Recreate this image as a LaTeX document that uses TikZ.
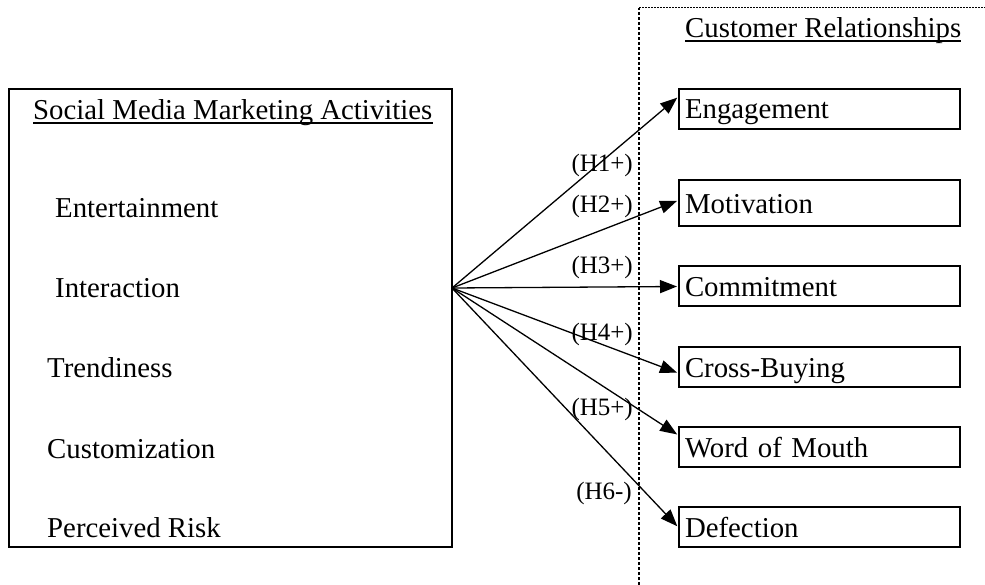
\documentclass[tikz,border=0pt]{standalone}
\usepackage{fontspec}
\setmainfont{Liberation Serif}
\usetikzlibrary{arrows.meta}

\tikzset{
    item/.style={anchor=base west, inner sep=0pt, font=\fontsize{28.8}{34}\selectfont},
    crbox/.style={draw, line width=2pt, anchor=west, inner xsep=6pt, inner ysep=0pt,
        text width=269pt, minimum height=40pt, text height=20pt, text depth=0pt,
        align=left, font=\fontsize{28.8}{34}\selectfont},
    hyp/.style={anchor=base east, inner sep=0pt, font=\fontsize{25}{30}\selectfont},
    link/.style={-{Triangle[length=17pt,width=13pt]}, line width=1.3pt, shorten >=1pt}
}

\begin{document}
\begin{tikzpicture}[x=1pt, y=-1pt]
    \useasboundingbox (0,0) rectangle (985,585);

    % Separator of the outcome side
    \draw[line width=2pt, dash pattern=on 3pt off 2pt] (639,585) -- (639,8);
    \draw[line width=1pt, dash pattern=on 1.5pt off 1.5pt] (639,8) -- (985,8);

    % Social media marketing activities
    \node[draw, line width=2pt, minimum width=443pt, minimum height=458pt, inner sep=0pt] (smma) at (230.5,318) {};
    \node[item] (smmatitle) at (33,120) {Social Media Marketing Activities};
    \draw[line width=1.2pt] ([yshift=-3pt]smmatitle.base west) -- ([yshift=-3pt]smmatitle.base east);
    \foreach \name/\txt/\x/\y in {ent/Entertainment/55/218, inter/Interaction/55/298,
        trend/Trendiness/47/377, cust/Customization/47/458, risk/Perceived Risk/47/537} {
        \node[item] (\name) at (\x,\y) {\txt};
    }
    \coordinate (hub) at (452,288);

    % Customer relationships
    \node[item] (crtitle) at (685,38) {Customer Relationships};
    \draw[line width=1.2pt] ([yshift=-3pt]crtitle.base west) -- ([yshift=-3pt]crtitle.base east);
    \node[crbox] (eng) at (678,109) {Engagement};
    \node[crbox, minimum height=46pt] (mot) at (678,203.5) {Motivation};
    \node[crbox] (com) at (678,286.5) {Commitment};
    \node[crbox] (cross) at (678,367) {Cross-Buying};
    \node[crbox] (wom) at (678,447) {Word of Mouth};
    \node[crbox] (def) at (678,527) {Defection};

    % Hypotheses
    \draw[link] (hub) -- ([yshift=12pt]eng.west);
    \draw[link] (hub) -- ([yshift=3pt]mot.west);
    \draw[link] (hub) -- (com.west);
    \draw[link] (hub) -- ([yshift=-6pt]cross.west);
    \draw[link] (hub) -- ([yshift=12pt]wom.west);
    \draw[link] (hub) -- (def.west);

    \node[hyp] (h1) at (633,172) {(H1+)};
    \node[hyp] (h2) at (633,213) {(H2+)};
    \node[hyp] (h3) at (633,274) {(H3+)};
    \node[hyp] (h4) at (633,340) {(H4+)};
    \node[hyp] (h5) at (633,415) {(H5+)};
    \node[hyp] (h6) at (632,499) {(H6-)};
\end{tikzpicture}
\end{document}
